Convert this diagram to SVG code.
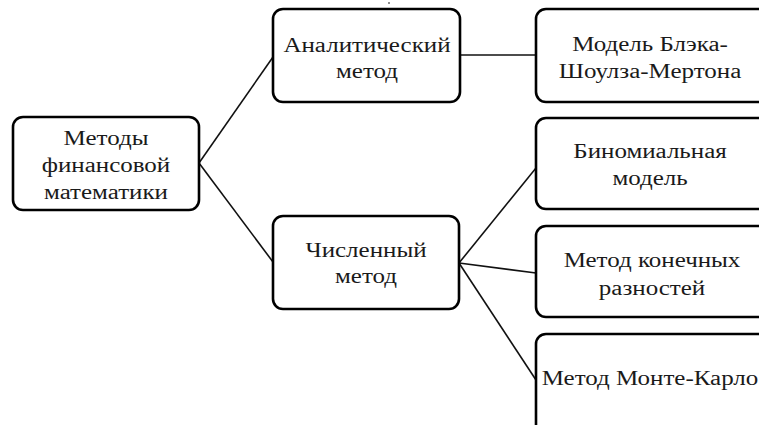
<svg xmlns="http://www.w3.org/2000/svg" width="759" height="425" viewBox="0 0 759 425">
<style>
.box{fill:#fff;stroke:#000;stroke-width:2.6}
.t{font-family:"Liberation Serif","Times New Roman",serif;font-size:20px;fill:#1a1a1a;text-anchor:middle}
.c{stroke:#111;stroke-width:1.6;fill:none}
</style>
<rect width="759" height="425" fill="#fff"/>
<g id="connectors">
<line class="c" x1="199" y1="163" x2="273" y2="57"/>
<line class="c" x1="199" y1="163" x2="273" y2="262"/>
<line class="c" x1="460" y1="55" x2="536" y2="55"/>
<line class="c" x1="459" y1="263" x2="536" y2="168"/>
<line class="c" x1="459" y1="263" x2="536" y2="273"/>
<line class="c" x1="459" y1="263" x2="536" y2="380"/>
</g>
<circle cx="389" cy="3" r="0.8" fill="#000"/>
<g id="n1">
<rect class="box" x="13" y="117" width="186" height="93" rx="10"/>
<g transform="translate(106 0) scale(1.25 1)"><text class="t" x="0" y="145">Методы</text><text class="t" x="0" y="172">финансовой</text><text class="t" x="0" y="199">математики</text></g>
</g>
<g id="n2">
<rect class="box" x="273" y="9" width="187" height="93" rx="10"/>
<g transform="translate(367 0) scale(1.25 1)"><text class="t" x="0" y="52">Аналитический</text><text class="t" x="0" y="78">метод</text></g>
</g>
<g id="n3">
<rect class="box" x="536" y="9" width="240" height="93" rx="10"/>
<g transform="translate(650 0) scale(1.25 1)"><text class="t" x="0" y="51">Модель Блэка-</text><text class="t" x="0" y="78">Шоулза-Мертона</text></g>
</g>
<g id="n4">
<rect class="box" x="273" y="216" width="186" height="93" rx="10"/>
<g transform="translate(366 0) scale(1.25 1)"><text class="t" x="0" y="257">Численный</text><text class="t" x="0" y="283">метод</text></g>
</g>
<g id="n5">
<rect class="box" x="536" y="118" width="240" height="91" rx="10"/>
<g transform="translate(650 0) scale(1.25 1)"><text class="t" x="0" y="158">Биномиальная</text><text class="t" x="0" y="185">модель</text></g>
</g>
<g id="n6">
<rect class="box" x="536" y="226" width="240" height="91" rx="10"/>
<g transform="translate(652 0) scale(1.25 1)"><text class="t" x="0" y="267">Метод конечных</text><text class="t" x="0" y="295">разностей</text></g>
</g>
<g id="n7">
<rect class="box" x="536" y="334" width="240" height="110" rx="10"/>
<g transform="translate(650 0) scale(1.25 1)"><text class="t" x="0" y="385">Метод Монте-Карло</text></g>
</g>
</svg>
